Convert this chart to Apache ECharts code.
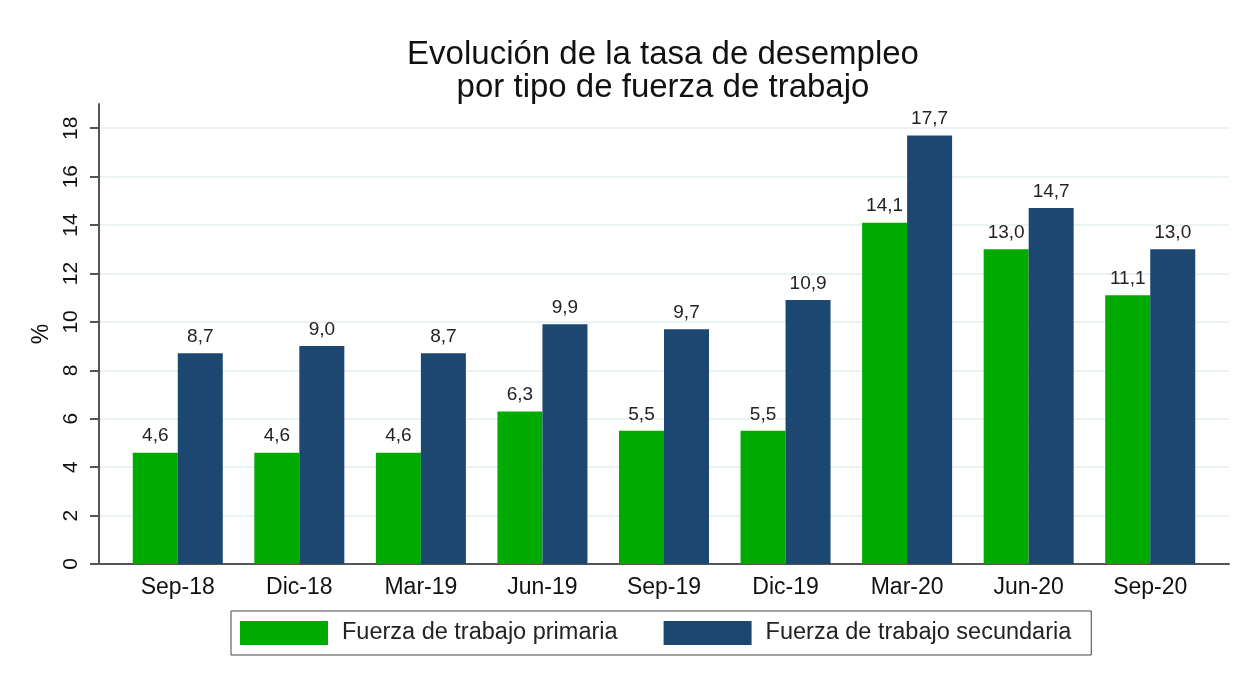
<!DOCTYPE html>
<html>
<head>
<meta charset="utf-8">
<title>Tasa de desempleo</title>
<script src="https://cdn.jsdelivr.net/npm/echarts@6/dist/echarts.min.js"></script>
<style>
  html, body { margin: 0; background: #fff; }
  #main { width: 1249px; height: 682px; }
</style>
</head>
<body>
<div id="main"></div>
<script>
// datos
var periodos = ['Sep-18', 'Dic-18', 'Mar-19', 'Jun-19', 'Sep-19', 'Dic-19', 'Mar-20', 'Jun-20', 'Sep-20'];
var primaria = [4.6, 4.6, 4.6, 6.3, 5.5, 5.5, 14.1, 13.0, 11.1];
var secundaria = [8.7, 9.0, 8.7, 9.9, 9.7, 10.9, 17.7, 14.7, 13.0];
var marcasY = [0, 2, 4, 6, 8, 10, 12, 14, 16, 18];

var fuente = 'Liberation Sans, Arial, sans-serif';
var verde = '#00aa00';
var azul = '#1c4770';

function etiqueta(p) {
  return p.value.toFixed(1).replace('.', ',');
}

var chart = echarts.init(document.getElementById('main'));

var option = {
  backgroundColor: '#fff',
  animation: false,
  textStyle: { fontFamily: fuente },
  title: {
    text: 'Evolución de la tasa de desempleo\npor tipo de fuerza de trabajo',
    left: 658,
    top: 33,
    textAlign: 'center',
    textStyle: { fontFamily: fuente, fontSize: 33, lineHeight: 33, fontWeight: 'normal', color: '#111' }
  },
  legend: {
    data: ['Fuerza de trabajo primaria', 'Fuerza de trabajo secundaria'],
    left: 231,
    top: 611,
    icon: 'rect',
    itemWidth: 88,
    itemHeight: 24,
    itemGap: 46,
    padding: [10, 20, 10, 9],
    borderColor: '#444',
    borderWidth: 1,
    textStyle: { fontFamily: fuente, fontSize: 23.5, color: '#222', padding: [0, 0, 0, 9] }
  },
  grid: [
    // ejes y lineas de cuadricula
    { left: 99, right: 20, top: 104, bottom: 118 },
    // barras
    { left: 117, right: 38, top: 104, bottom: 118 }
  ],
  xAxis: [
    {
      gridIndex: 0,
      type: 'category',
      data: periodos,
      axisLine: { lineStyle: { color: '#555', width: 2 } },
      axisTick: { show: false },
      axisLabel: { show: false }
    },
    {
      gridIndex: 1,
      type: 'category',
      data: periodos,
      axisLine: { show: false },
      axisTick: { show: false },
      axisLabel: { fontFamily: fuente, fontSize: 23, color: '#111', margin: 12 }
    }
  ],
  yAxis: [
    {
      gridIndex: 0,
      type: 'value',
      min: 0,
      max: 19,
      interval: 1,
      name: '%',
      nameLocation: 'middle',
      nameGap: 43,
      nameRotate: 90,
      nameTextStyle: { fontFamily: fuente, fontSize: 23, color: '#111' },
      axisLine: { show: true, lineStyle: { color: '#555', width: 2 } },
      axisTick: { show: true, length: 9, customValues: marcasY, lineStyle: { color: '#555', width: 2 } },
      axisLabel: { rotate: 90, margin: 17, customValues: marcasY, fontFamily: fuente, fontSize: 21, color: '#111' },
      splitLine: { show: true, lineStyle: { color: '#eaf2f3', width: 2 } }
    },
    {
      gridIndex: 1,
      type: 'value',
      min: 0,
      max: 19,
      show: false,
      splitLine: { show: false }
    }
  ],
  series: [
    {
      name: 'Fuerza de trabajo primaria',
      type: 'bar',
      xAxisIndex: 1,
      yAxisIndex: 1,
      data: primaria,
      barWidth: 45,
      barGap: '0%',
      itemStyle: { color: verde },
      label: { show: true, position: 'top', distance: 7, formatter: etiqueta, fontFamily: fuente, fontSize: 19, color: '#222' }
    },
    {
      name: 'Fuerza de trabajo secundaria',
      type: 'bar',
      xAxisIndex: 1,
      yAxisIndex: 1,
      data: secundaria,
      barWidth: 45,
      barGap: '0%',
      itemStyle: { color: azul },
      label: { show: true, position: 'top', distance: 7, formatter: etiqueta, fontFamily: fuente, fontSize: 19, color: '#222' }
    }
  ]
};

chart.setOption(option);
</script>
</body>
</html>
